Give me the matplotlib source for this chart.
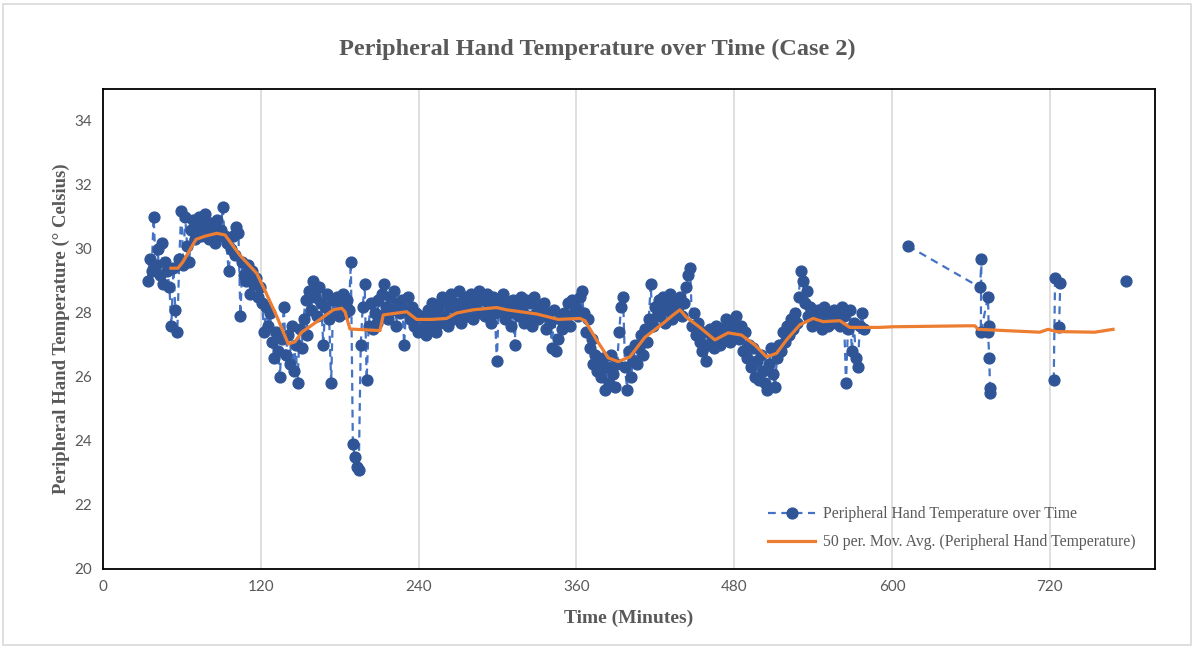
import numpy as np
import matplotlib
matplotlib.use('Agg')
import matplotlib.pyplot as plt
from matplotlib.patches import Rectangle

# dense logging: one reading every 1.5 minutes starting at minute 34
sample_start = 34.0
sample_step = 1.5
temps = [
    29.0, 29.7, 29.3, 31.0, 29.5, 30.0, 29.2, 30.2, 28.9, 29.6,
    29.3, 28.8, 27.6, 29.4, 28.1, 27.4, 29.7, 31.2, 29.5, 31.0,
    30.1, 29.6, 30.6, 30.9, 30.3, 30.7, 31.0, 30.4, 30.8, 31.1,
    30.5, 30.3, 30.8, 30.6, 30.2, 30.9, 30.4, 30.6, 31.3, 30.4,
    30.2, 29.3, 30.0, 30.4, 29.8, 30.7, 30.5, 27.9, 29.6, 29.2,
    29.0, 29.5, 28.6, 29.3, 28.9, 29.1, 28.5, 28.8, 28.3, 27.4,
    28.2, 27.6, 28.0, 27.1, 26.6, 27.4, 26.8, 26.0, 27.2, 28.2,
    26.7, 27.3, 26.4, 27.6, 26.2, 27.0, 25.8, 27.5, 26.9, 27.8,
    28.4, 27.3, 28.7, 28.1, 29.0, 28.5, 27.9, 28.8, 28.3, 27.0,
    28.2, 28.6, 27.8, 25.8, 28.4, 28.0, 28.5, 27.9, 28.3, 28.6,
    28.0, 28.4, 28.1, 29.6, 23.9, 23.5, 23.2, 23.1, 27.0, 28.2,
    28.9, 25.9, 27.6, 28.3, 27.5, 28.0, 27.7, 28.4, 27.9, 28.6,
    28.9, 28.2, 27.8, 28.5, 28.1, 28.7, 27.6, 28.3, 28.0, 28.4,
    27.0, 28.1, 28.5, 27.8, 28.2, 27.6, 28.0, 27.4, 27.9, 27.5,
    27.8, 27.3, 28.1, 27.6, 28.3, 27.9, 27.4, 28.2, 27.7, 28.5,
    27.9, 28.4, 27.6, 28.2, 28.6, 27.8, 28.3, 28.0, 28.7, 27.7,
    28.2, 28.5, 27.9, 28.3, 28.6, 27.8, 28.4, 28.1, 28.7, 28.0,
    28.4, 27.9, 28.6, 28.2, 27.7, 28.5, 28.0, 26.5, 28.3, 28.1,
    28.6, 27.8, 28.3, 28.0, 27.6, 28.4, 27.0, 28.2, 27.9, 28.5,
    28.1, 27.7, 28.4, 27.9, 28.3, 27.6, 28.5, 28.0, 27.8, 28.2,
    27.9, 28.3, 27.5, 28.0, 27.7, 26.9, 28.1, 26.8, 27.2, 27.8,
    27.5, 28.0, 27.8, 28.3, 27.6, 28.4, 28.0, 28.2, 27.9, 28.5,
    28.7, 28.0, 27.4, 27.8, 26.9, 27.2, 26.4, 26.7, 26.2, 26.5,
    26.0, 26.6, 25.6, 26.3, 25.8, 26.7, 26.1, 25.7, 26.4, 27.4,
    28.2, 28.5, 26.3, 25.6, 26.8, 26.0, 26.5, 27.0, 26.4, 26.9,
    27.3, 26.7, 27.5, 27.1, 27.8, 28.9, 27.6, 28.2, 27.9, 28.4,
    28.0, 28.5, 27.7, 28.3, 28.1, 28.6, 27.8, 28.4, 28.0, 28.2,
    28.5, 27.9, 28.3, 28.8, 29.2, 29.4, 27.6, 28.0, 27.3, 27.7,
    27.1, 26.8, 27.4, 26.5, 27.0, 27.5, 27.2, 26.9, 27.6, 27.3,
    27.0, 27.5, 27.2, 27.8, 27.4, 27.1, 27.6, 27.3, 27.9, 27.5,
    27.2, 27.6, 26.8, 27.4, 26.6, 27.0, 26.3, 26.9, 26.0, 26.5,
    25.9, 26.7, 26.2, 25.8, 25.6, 26.4, 26.9, 26.1, 25.7, 26.6,
    27.0, 26.8, 27.4, 27.1, 27.6, 27.3, 27.8, 27.5, 28.0, 27.7,
    28.5, 29.3, 29.0, 28.3, 28.7, 27.9, 28.2, 27.6, 28.0, 27.7,
    28.1, 27.8, 27.5, 28.2, 27.9, 27.6, 28.0, 27.7, 28.1, 27.8,
    28.0, 27.6, 28.2, 27.9, 25.8, 27.5, 28.1, 26.8, 27.7, 26.6,
    26.3, 27.6, 28.0, 27.5,
]

# sparse readings later on (nan = break in the line)
late_time = [612, 667, 668, 667.5, 673, 673.5, 673, 674, 674.5, 674.3,
             np.nan, 723, 724, 728, 727, np.nan, 778]
late_temp = [30.1, 28.8, 29.7, 27.4, 28.5, 27.6, 27.4, 26.6, 25.65, 25.5,
             np.nan, 25.9, 29.1, 28.95, 27.55, np.nan, 29.0]

# 50 per. moving average trendline (as shown on chart)
trend_time = [51.7, 57.0, 60.8, 70.7, 77.5, 86.4, 92.8, 104.2, 116.9, 123.2,
              132.1, 140.9, 146.0, 151.1, 159.9, 175.1, 181.5, 184.0, 187.8, 210.6,
              213.1, 230.9, 238.5, 249.9, 261.3, 268.9, 281.5, 299.3, 306.9, 329.7,
              346.2, 362.7, 366.5, 375.3, 384.2, 391.8, 400.7, 412.1, 426.0, 433.6,
              438.7, 443.8, 453.9, 465.3, 475.4, 485.6, 495.7, 504.6, 512.2, 519.8,
              529.9, 540.0, 547.6, 560.3, 567.9, 590.7, 600.8, 657.9, 663.0, 665.5,
              712.4, 718.7, 725.1, 754.2, 768.1]
trend_temp = [29.4, 29.4, 29.6, 30.3, 30.4, 30.49, 30.44, 29.8, 29.24, 28.7,
              27.9, 27.03, 27.1, 27.4, 27.65, 28.1, 28.15, 28.04, 27.5, 27.45,
              27.94, 28.04, 27.8, 27.8, 27.83, 28.0, 28.1, 28.17, 28.1, 27.97,
              27.8, 27.83, 27.76, 27.16, 26.6, 26.48, 26.63, 27.24, 27.68, 27.94,
              28.1, 27.86, 27.55, 27.16, 27.38, 27.31, 27.0, 26.63, 26.74, 27.16,
              27.63, 27.83, 27.73, 27.76, 27.55, 27.55, 27.57, 27.6, 27.6, 27.49,
              27.4, 27.49, 27.42, 27.4, 27.49]

x_ticks = [0, 120, 240, 360, 480, 600, 720]
y_ticks = [20, 22, 24, 26, 28, 30, 32, 34]

gray = '#595959'
serif = ['Liberation Serif', 'DejaVu Serif']

dense_time = sample_start + sample_step * np.arange(len(temps))
all_time = np.concatenate([dense_time, [np.nan], late_time])
all_temp = np.concatenate([temps, [np.nan], late_temp])

fig = plt.figure(figsize=(11.94, 6.47), dpi=100)
ax = fig.add_axes([103 / 1194, 1 - 569 / 647, (1155 - 103) / 1194, (569 - 89) / 647])

ax.plot(all_time, all_temp, color='#4472C4', lw=1.6, dashes=(3.5, 2.5),
        marker='o', ms=7.8, mfc='#2F5597', mec='#2F5597',
        label='Peripheral Hand Temperature over Time', zorder=3)
ax.plot(trend_time, trend_temp, color='#ED7D31', lw=2.3,
        label='50 per. Mov. Avg. (Peripheral Hand Temperature)', zorder=4)

ax.set_xlim(0, 800)
ax.set_ylim(20, 35)
ax.set_xticks(x_ticks)
ax.set_yticks(y_ticks)
ax.tick_params(length=0, labelsize=11, labelcolor=gray, pad=8)
for lab in ax.get_xticklabels() + ax.get_yticklabels():
    lab.set_family('Lato')
ax.xaxis.grid(True, color='#D9D9D9', lw=1.2)
ax.set_axisbelow(True)
for s in ax.spines.values():
    s.set_color('black')
    s.set_linewidth(1.3)

ax.set_xlabel('Time (Minutes)', family=serif, fontweight='bold', fontsize=14, color=gray, labelpad=11)
ax.set_ylabel('Peripheral Hand Temperature (° Celsius)', family=serif, fontweight='bold', fontsize=13.5,
              color=gray, labelpad=3)
fig.suptitle('Peripheral Hand Temperature over Time (Case 2)', x=0.5, y=0.94,
             family=serif, fontweight='bold', fontsize=17.5, color=gray)

leg = ax.legend(loc='lower right', bbox_to_anchor=(0.995, 0.01), frameon=False,
                prop={'family': serif, 'size': 11.3}, handlelength=3.0, handletextpad=0.5,
                labelspacing=0.75)
for t in leg.get_texts():
    t.set_color(gray)

fig.add_artist(Rectangle((3 / 1194, 2 / 647), 1188 / 1194, 641 / 647, transform=fig.transFigure,
                         fill=False, edgecolor='#D9D9D9', lw=1.2))

fig.savefig('out.png', dpi=100)
